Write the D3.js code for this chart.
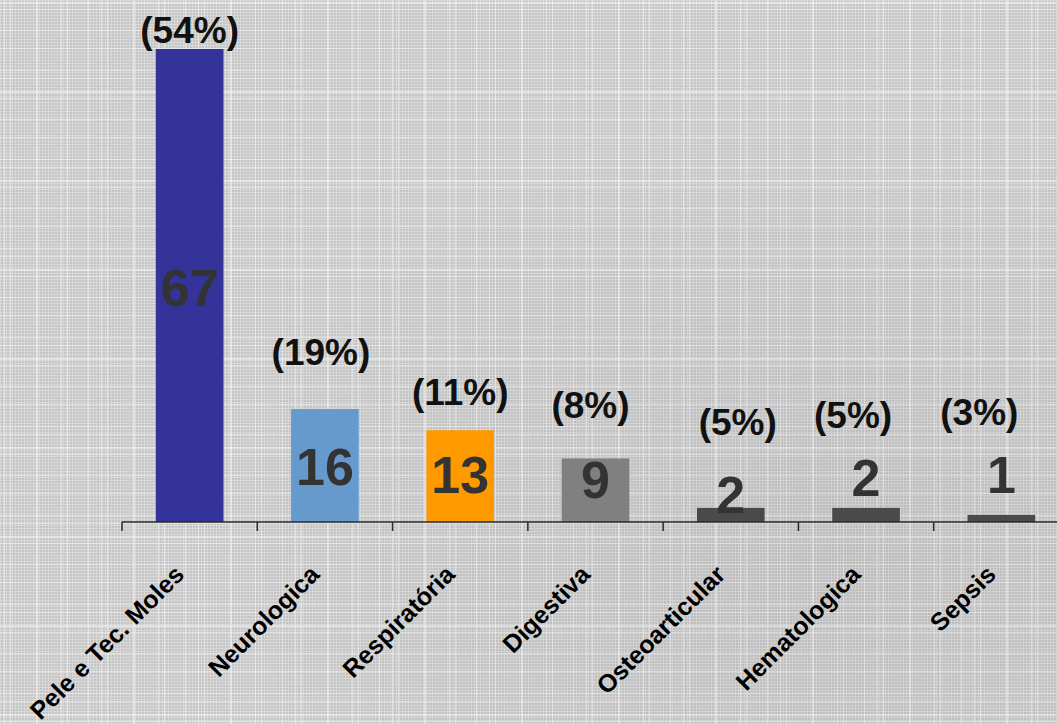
<!DOCTYPE html>
<html>
<head>
<meta charset="utf-8">
<script src="https://cdn.jsdelivr.net/npm/d3@7"></script>
<style>
  html, body { margin: 0; padding: 0; background: #d2d2d2; }
  svg { display: block; }
</style>
</head>
<body>
<svg id="chart" width="1057" height="724"></svg>
<script>
// ---- data ----
const categories = ["Pele e Tec. Moles", "Neurologica", "Respiratória", "Digestiva", "Osteoarticular", "Hematologica", "Sepsis"];
const counts = [67, 16, 13, 9, 2, 2, 1];
const percentLabels = ["(54%)", "(19%)", "(11%)", "(8%)", "(5%)", "(5%)", "(3%)"];

// ---- layout / style (not data) ----
const barColors = ["#333399", "#6699CC", "#FF9900", "#808080", "#4A4A4A", "#4A4A4A", "#4A4A4A"];
const pctLift = [6, 44, 25, 40, 73, 80, 90];      // px above bar top (baseline)
const pctDx = [0, -4, 0, -5, 7, -13, -22];        // px horizontal nudge
const valueDy = [2, 1, -1, 0, 15, -2, -5];       // px nudge of value label center

const W = 1057, H = 724;
const svg = d3.select("#chart");
const defs = svg.append("defs");

// fine texture
const fine = defs.append("pattern").attr("id", "fine").attr("patternUnits", "userSpaceOnUse")
  .attr("width", 3).attr("height", 3);
fine.append("rect").attr("width", 3).attr("height", 3).attr("fill", "#c4c4c4");
fine.append("rect").attr("x", 0).attr("y", 0).attr("width", 3).attr("height", 1).attr("fill", "#d8d8d8");
fine.append("rect").attr("x", 0).attr("y", 0).attr("width", 1).attr("height", 3).attr("fill", "#d8d8d8");

// coarse white lines
const coarse = defs.append("pattern").attr("id", "coarse").attr("patternUnits", "userSpaceOnUse")
  .attr("width", 97).attr("height", 89);
[[4,1],[10,1],[36,2],[61,1],[67,1],[88,1]].forEach(([x,w]) =>
  coarse.append("rect").attr("x", x).attr("y", 0).attr("width", w).attr("height", 89).attr("fill", "#f2f2f2").attr("opacity", 0.6));
[[2,2],[9,1],[30,1],[48,1],[70,1],[78,1]].forEach(([y,h]) =>
  coarse.append("rect").attr("x", 0).attr("y", y).attr("width", 97).attr("height", h).attr("fill", "#f2f2f2").attr("opacity", 0.6));

const shade = defs.append("radialGradient").attr("id", "shade").attr("cx", "0.8").attr("cy", "0.75").attr("r", "0.6");
shade.append("stop").attr("offset", "0").attr("stop-color", "#000").attr("stop-opacity", 0.05);
shade.append("stop").attr("offset", "1").attr("stop-color", "#000").attr("stop-opacity", 0);

svg.append("rect").attr("width", W).attr("height", H).attr("fill", "url(#fine)");
svg.append("rect").attr("width", W).attr("height", H).attr("fill", "url(#coarse)");
svg.append("rect").attr("width", W).attr("height", H).attr("fill", "url(#shade)");

// ---- scales ----
const x = d3.scaleBand().domain(categories).range([122, 1069]).paddingInner(0.5).paddingOuter(0.25);
const y = d3.scaleLinear().domain([0, 67]).range([522, 49]);
const step = x.step();

// ---- bars ----
svg.append("g").selectAll("rect").data(categories).join("rect")
  .attr("x", d => x(d))
  .attr("y", (d, i) => y(counts[i]))
  .attr("width", x.bandwidth())
  .attr("height", (d, i) => y(0) - y(counts[i]))
  .attr("fill", (d, i) => barColors[i]);

// ---- axis ----
const axis = svg.append("g");
axis.append("line").attr("x1", 122).attr("x2", W).attr("y1", y(0)).attr("y2", y(0))
  .attr("stroke", "#2a2a2a").attr("stroke-width", 1.5);
axis.selectAll("line.tick").data(categories).join("line").attr("class", "tick")
  .attr("x1", d => x(d) - step * 0.25).attr("x2", d => x(d) - step * 0.25)
  .attr("y1", y(0)).attr("y2", y(0) + 9)
  .attr("stroke", "#2a2a2a").attr("stroke-width", 1.5);

// category labels
axis.selectAll("text.cat").data(categories).join("text").attr("class", "cat")
  .attr("transform", d => `translate(${x(d) + x.bandwidth() / 2 - 4},${576}) rotate(-45)`)
  .attr("text-anchor", "end")
  .attr("font-family", "Liberation Sans, Arial, sans-serif")
  .attr("font-weight", "bold")
  .attr("font-size", 25)
  .attr("fill", "#000")
  .text(d => d);

// value labels
svg.append("g").selectAll("text").data(categories).join("text")
  .attr("x", d => x(d) + x.bandwidth() / 2)
  .attr("y", (d, i) => Math.min((y(counts[i]) + y(0)) / 2, 480) + valueDy[i] + 18)
  .attr("text-anchor", "middle")
  .attr("font-family", "Liberation Sans, Arial, sans-serif")
  .attr("font-weight", "bold")
  .attr("font-size", 52)
  .attr("fill", "#333333")
  .text((d, i) => counts[i]);

// percent labels
svg.append("g").selectAll("text").data(categories).join("text")
  .attr("x", (d, i) => x(d) + x.bandwidth() / 2 + pctDx[i])
  .attr("y", (d, i) => y(counts[i]) - pctLift[i])
  .attr("text-anchor", "middle")
  .attr("font-family", "Liberation Sans, Arial, sans-serif")
  .attr("font-weight", "bold")
  .attr("font-size", 37)
  .attr("fill", "#111")
  .text((d, i) => percentLabels[i]);
</script>
</body>
</html>
